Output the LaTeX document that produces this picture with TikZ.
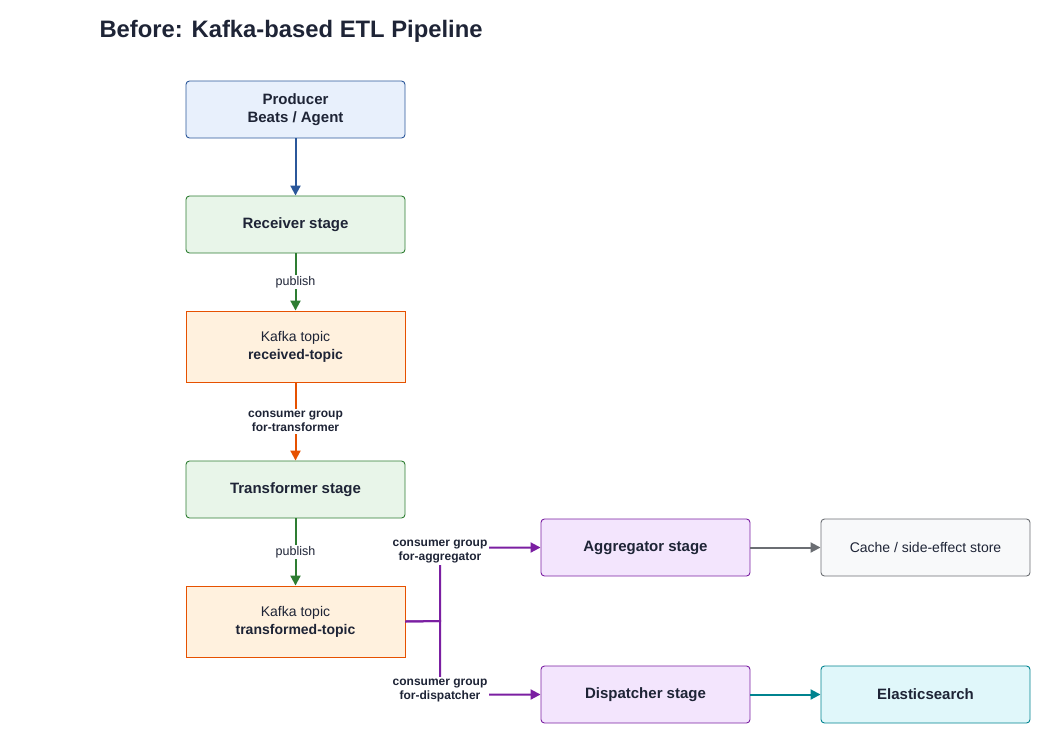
\documentclass[tikz,border=0pt]{standalone}
\usepackage{fontspec}
\setmainfont{Liberation Sans}
\usetikzlibrary{arrows.meta}
\definecolor{ink}{HTML}{1E2436}
\definecolor{prodblue}{HTML}{2B579A}
\definecolor{prodfill}{HTML}{E8F0FC}
\definecolor{stgreen}{HTML}{2E7D32}
\definecolor{stfill}{HTML}{E8F5E9}
\definecolor{kforange}{HTML}{E65100}
\definecolor{kffill}{HTML}{FFF1DE}
\definecolor{cgpurple}{HTML}{7B1FA2}
\definecolor{cgfill}{HTML}{F3E5FD}
\definecolor{cachegray}{HTML}{6B6E73}
\definecolor{cachefill}{HTML}{F8F9FA}
\definecolor{esteal}{HTML}{00838F}
\definecolor{esfill}{HTML}{E0F7FA}

\tikzset{
  box/.style={draw, rounded corners=3.5pt, minimum width=219pt, minimum height=57pt,
    line width=0.9pt, align=center, text=ink, font=\fontsize{15}{18}\selectfont\bfseries},
  topic/.style={box, sharp corners, minimum height=71pt, font=\fontsize{14}{18}\selectfont\bfseries},
  sidebox/.style={box, minimum width=209pt},
  link/.style={line width=2pt, -{Triangle[length=10pt,width=10pt]}},
  lbl/.style={fill=white, inner sep=1.5pt, text=ink, font=\fontsize{12.5}{15}\selectfont},
  cg/.style={lbl, align=center, font=\fontsize{12}{14.5}\selectfont\bfseries},
}

\begin{document}
\begin{tikzpicture}[x=1pt,y=-1pt]
\useasboundingbox (0,0) rectangle (1041,734);

\node[anchor=west, text=ink, font=\fontsize{23.8}{28}\selectfont\bfseries] (title) at (96,31)
  {Before: Kafka-based ETL Pipeline};

% main column
\node[box, draw=prodblue, fill=prodfill] (prod) at (295.5,109.5) {Producer\\Beats / Agent};
\node[box, draw=stgreen, fill=stfill] (recv) at (295.5,224.5) {Receiver stage};
\node[topic, draw=kforange, fill=kffill] (rtopic) at (295.5,346.5)
  {{\mdseries Kafka topic}\\received-topic};
\node[box, draw=stgreen, fill=stfill] (trans) at (295.5,489.5) {Transformer stage};
\node[topic, draw=kforange, fill=kffill] (ttopic) at (295.5,621.5)
  {{\mdseries Kafka topic}\\transformed-topic};

% consumers
\node[sidebox, draw=cgpurple, fill=cgfill] (agg) at (645.5,547.5) {Aggregator stage};
\node[sidebox, draw=cachegray, fill=cachefill, font=\fontsize{14}{17}\selectfont] (cache) at (925.5,547.5)
  {Cache / side-effect store};
\node[sidebox, draw=cgpurple, fill=cgfill] (disp) at (645.5,694.5) {Dispatcher stage};
\node[sidebox, draw=esteal, fill=esfill] (es) at (925.5,694.5) {Elasticsearch};

\draw[link, prodblue] (prod) -- (recv);
\draw[link, stgreen] (recv) -- node[lbl]{publish} (rtopic);
\draw[link, kforange] (rtopic) -- node[cg]{consumer group\\for-transformer} (trans);
\draw[link, stgreen] (trans) -- node[lbl]{publish} (ttopic);

\coordinate (fork) at (440,621);
\draw[link, cgpurple] (ttopic.east) -- (fork) |- node[cg, pos=0.5, yshift=-4pt]{consumer group\\for-aggregator} (agg.west);
\draw[link, cgpurple] (ttopic.east) -- (fork) |- node[cg, pos=0.5, yshift=4pt]{consumer group\\for-dispatcher} (disp.west);

\draw[link, cachegray] (agg) -- (cache);
\draw[link, esteal] (disp) -- (es);
\end{tikzpicture}
\end{document}
